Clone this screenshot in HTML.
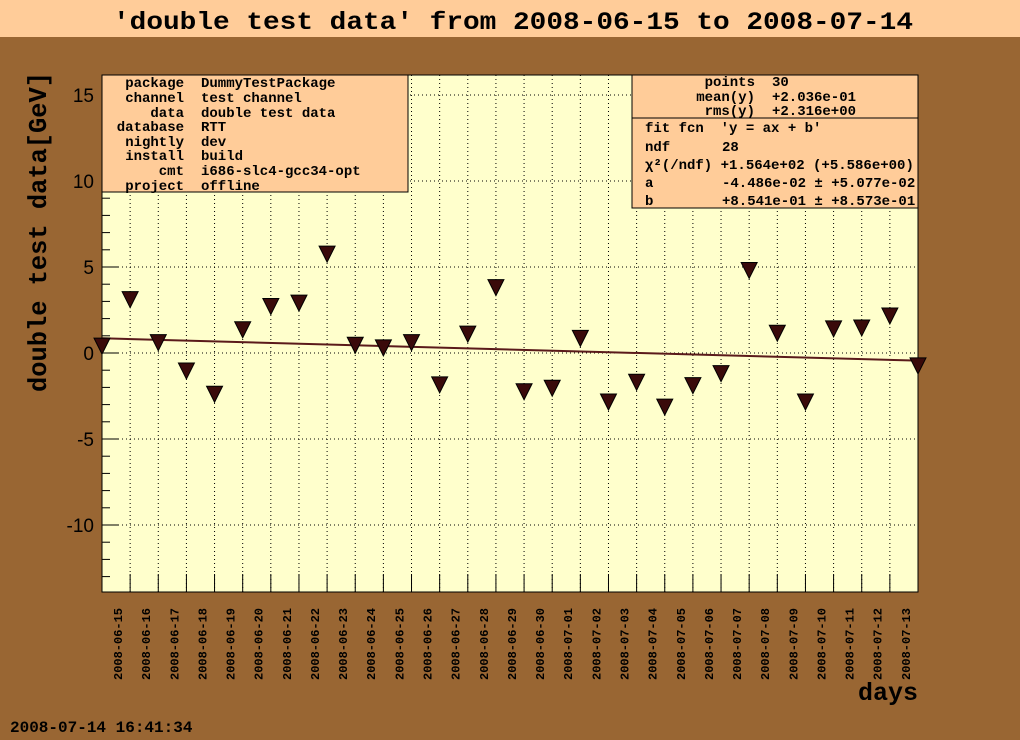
<!DOCTYPE html>
<html><head><meta charset="utf-8"><style>
html,body{margin:0;padding:0;background:#996633}
svg{display:block}
text{font-family:"Liberation Mono",monospace;font-weight:bold;fill:#000}
</style></head><body>
<svg width="1020" height="740" xmlns="http://www.w3.org/2000/svg">
<rect x="0" y="0" width="1020" height="740" fill="#996633"/>
<rect x="0" y="0" width="1020" height="37" fill="#ffcc99"/>
<text x="113" y="29" font-size="25" textLength="800" lengthAdjust="spacingAndGlyphs">'double test data' from 2008-06-15 to 2008-07-14</text>
<rect x="102" y="75" width="816" height="517" fill="#ffffcc" stroke="#000"/>
<g id="grid"></g>
<g id="axes"></g>
<line id="fit" stroke="#5a1a1a" stroke-width="2"/>
<g id="pts"></g>
<text transform="translate(46,232) rotate(-90)" font-size="26" text-anchor="middle" textLength="320" lengthAdjust="spacingAndGlyphs">double test data[GeV]</text>
<text x="918" y="700" font-size="25" text-anchor="end">days</text>
<text x="10" y="732" font-size="16">2008-07-14 16:41:34</text>
<g>
<rect x="102" y="75" width="306" height="117" fill="#ffcc99" stroke="#000"/>
<g font-size="14">
<text x="184" y="87" text-anchor="end">package</text><text x="201" y="87">DummyTestPackage</text>
<text x="184" y="102" text-anchor="end">channel</text><text x="201" y="102">test channel</text>
<text x="184" y="117" text-anchor="end">data</text><text x="201" y="117">double test data</text>
<text x="184" y="131" text-anchor="end">database</text><text x="201" y="131">RTT</text>
<text x="184" y="146" text-anchor="end">nightly</text><text x="201" y="146">dev</text>
<text x="184" y="160" text-anchor="end">install</text><text x="201" y="160">build</text>
<text x="184" y="175" text-anchor="end">cmt</text><text x="201" y="175">i686-slc4-gcc34-opt</text>
<text x="184" y="190" text-anchor="end">project</text><text x="201" y="190">offline</text>
</g></g>
<g>
<rect x="632" y="75" width="286" height="133" fill="#ffcc99" stroke="#000"/>
<line x1="632" y1="118" x2="918" y2="118" stroke="#000"/>
<g font-size="14">
<text x="755" y="86" text-anchor="end">points</text><text x="772" y="86">30</text>
<text x="755" y="101" text-anchor="end">mean(y)</text><text x="772" y="101">+2.036e-01</text>
<text x="755" y="115" text-anchor="end">rms(y)</text><text x="772" y="115">+2.316e+00</text>
<text x="645" y="132" xml:space="preserve">fit fcn  'y = ax + b'</text>
<text x="645" y="151">ndf</text><text x="722" y="151">28</text>
<text x="645" y="169">χ²(/ndf) +1.564e+02 (+5.586e+00)</text>
<text x="645" y="187">a</text><text x="722" y="187">-4.486e-02 ± +5.077e-02</text>
<text x="645" y="205">b</text><text x="722" y="205">+8.541e-01 ± +8.573e-01</text>
</g></g>
<script>
const dates=["2008-06-15","2008-06-16","2008-06-17","2008-06-18","2008-06-19","2008-06-20","2008-06-21","2008-06-22","2008-06-23","2008-06-24","2008-06-25","2008-06-26","2008-06-27","2008-06-28","2008-06-29","2008-06-30","2008-07-01","2008-07-02","2008-07-03","2008-07-04","2008-07-05","2008-07-06","2008-07-07","2008-07-08","2008-07-09","2008-07-10","2008-07-11","2008-07-12","2008-07-13"];
const values=[0.4,3.1,0.6,-1.05,-2.4,1.35,2.7,2.9,5.75,0.45,0.3,0.6,-1.85,1.1,3.8,-2.25,-2.05,0.85,-2.85,-1.7,-3.15,-1.9,-1.2,4.8,1.15,-2.85,1.4,1.45,2.15,-0.75];
const yTicks=[-10,-5,0,5,10,15];
const fitA=-0.04486, fitB=0.8541;
const NS="http://www.w3.org/2000/svg";
const X0=102,X1=918,Y0=75,Y1=592;
const xs=i=>X0+i*(X1-X0)/29;
const ys=v=>353-v*17.2;
function mk(t,a,p){const e=document.createElementNS(NS,t);for(const k in a)e.setAttribute(k,a[k]);p.appendChild(e);return e;}
const grid=document.getElementById('grid'),axes=document.getElementById('axes'),pts=document.getElementById('pts');
yTicks.forEach(v=>{
  const l=mk('line',{x1:X0,x2:X1,y1:ys(v),y2:ys(v),stroke:'#000','stroke-dasharray':'1,3'},grid);
  
  
  mk('line',{x1:X0,x2:X0+16,y1:ys(v),y2:ys(v),stroke:'#000'},axes);
  const tx=mk('text',{x:X0-8,y:ys(v)+7,'font-size':19,'text-anchor':'end',style:'font-family:"Liberation Sans",sans-serif;font-weight:normal'},axes);
  tx.textContent=v;
  
  
});
for(let v=-13;v<=16;v++){if(v%5)mk('line',{x1:X0,x2:X0+8,y1:ys(v),y2:ys(v),stroke:'#000'},axes);}
dates.forEach((d,i)=>{
  const x=xs(i);
  mk('line',{x1:x,x2:x,y1:Y0,y2:Y1,stroke:'#000','stroke-dasharray':'1,3'},grid);
  mk('line',{x1:x,x2:x,y1:Y1-18,y2:Y1,stroke:'#000'},axes);
  const t=mk('text',{transform:`translate(${x+20},680) rotate(-90)`,'font-size':12},axes);
  t.textContent=d;
  
  
});
const f=document.getElementById('fit');
f.setAttribute('x1',X0);f.setAttribute('y1',ys(fitB));
f.setAttribute('x2',X1);f.setAttribute('y2',ys(fitB+fitA*29));
values.forEach((v,i)=>{
  const x=xs(i),y=ys(v);
  const p=mk('polygon',{points:`${x-8},${y-8} ${x+8},${y-8} ${x},${y+8}`,fill:'#3a0a0a',stroke:'#000'},pts);
  
  
});
</script>
</svg>
</body></html>
